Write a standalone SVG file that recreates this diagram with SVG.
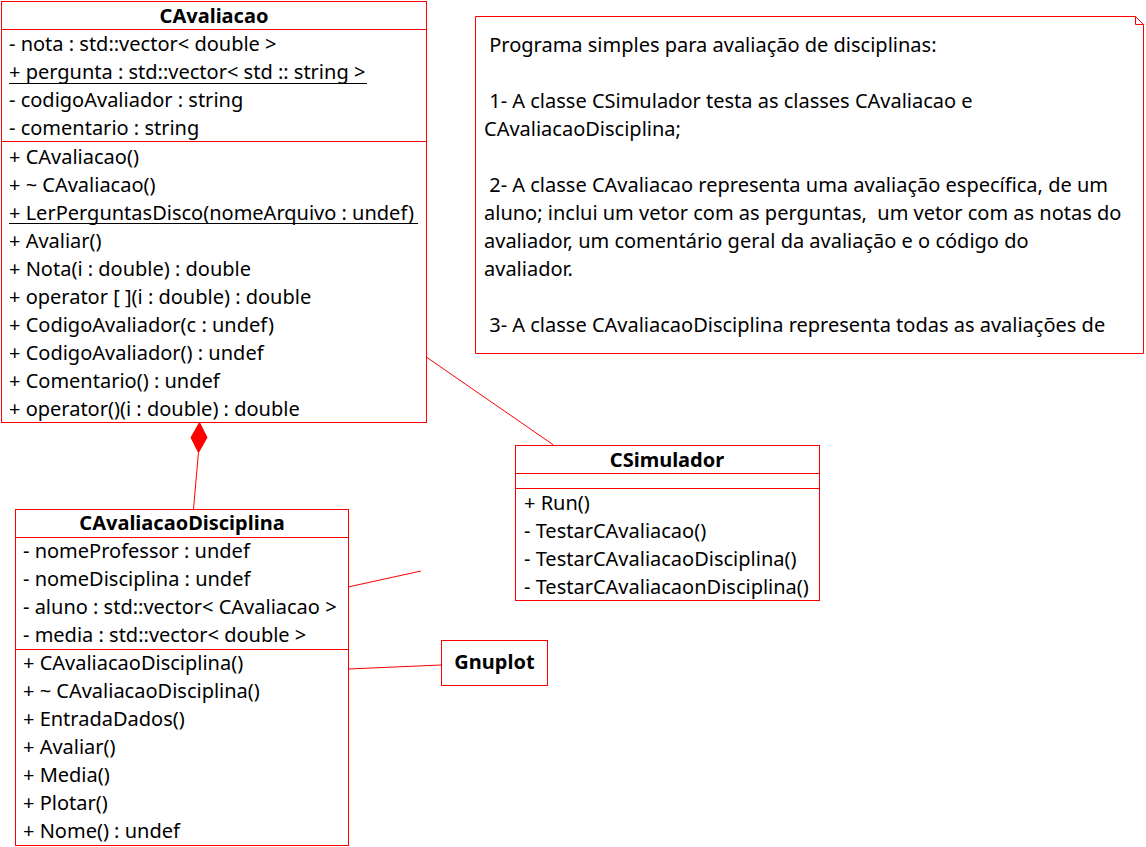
<svg xmlns="http://www.w3.org/2000/svg" width="1146" height="847" viewBox="0 0 1146 847">
<style>
text{font-family:"Noto Sans","Open Sans","DejaVu Sans",sans-serif;font-size:20px;fill:#000;white-space:pre}
.t{font-weight:bold;text-anchor:middle}
.ul{stroke:#000;stroke-width:1.2;fill:none}
.box{fill:#fff;stroke:#ff0000;stroke-width:1}
.ln{stroke:#ff0000;stroke-width:1;fill:none}
</style>
<rect width="1146" height="847" fill="#fff"/>
<g id="connectors">
<path class="ln" d="M198.5,452 L193.5,509"/>
<polygon points="199.5,422.5 207,437.5 198.5,452.5 191,437.5" fill="#ff0000" stroke="#ff0000"/>
<path class="ln" d="M427,357.5 L553.5,445"/>
<path class="ln" d="M348,587 L421,571"/>
<path class="ln" d="M348,669 L441,665"/>
</g>
<g id="CAvaliacao">
<rect class="box" x="1.5" y="1.5" width="425" height="421"/>
<path class="ln" d="M1.5,29.5 H426.5 M1.5,141.5 H426.5"/>
<text class="t" x="214" y="23">CAvaliacao</text>
<text x="9" y="51">- nota : std::vector&lt; double &gt;</text>
<text x="9" y="79">+ pergunta : std::vector&lt; std :: string &gt;</text>
<path class="ul" d="M9,83.5 H367"/>
<text x="9" y="107">- codigoAvaliador : string</text>
<text x="9" y="135">- comentario : string</text>
<text x="9" y="164">+ CAvaliacao()</text>
<text x="9" y="192">+ ~ CAvaliacao()</text>
<text x="9" y="220">+ LerPerguntasDisco(nomeArquivo : undef)</text>
<path class="ul" d="M9,223.5 H418"/>
<text x="9" y="248">+ Avaliar()</text>
<text x="9" y="276">+ Nota(i : double) : double</text>
<text x="9" y="304">+ operator [ ](i : double) : double</text>
<text x="9" y="332">+ CodigoAvaliador(c : undef)</text>
<text x="9" y="360">+ CodigoAvaliador() : undef</text>
<text x="9" y="388">+ Comentario() : undef</text>
<text x="9" y="416">+ operator()(i : double) : double</text>
</g>
<g id="note">
<path class="box" d="M475.5,16.5 H1135.5 L1143.5,24.5 V353.5 H475.5 Z"/>
<path class="ln" d="M1135.5,16.5 V24.5 H1143.5"/>
<text x="484" y="52" xml:space="preserve"> Programa simples para avaliação de disciplinas:</text>
<text x="484" y="108" xml:space="preserve"> 1- A classe CSimulador testa as classes CAvaliacao e</text>
<text x="484" y="136" xml:space="preserve">CAvaliacaoDisciplina;</text>
<text x="484" y="192" xml:space="preserve"> 2- A classe CAvaliacao representa uma avaliação específica, de um</text>
<text x="484" y="220" xml:space="preserve">aluno; inclui um vetor com as perguntas,  um vetor com as notas do</text>
<text x="484" y="248" xml:space="preserve">avaliador, um comentário geral da avaliação e o código do</text>
<text x="484" y="276" xml:space="preserve">avaliador.</text>
<text x="484" y="332" xml:space="preserve"> 3- A classe CAvaliacaoDisciplina representa todas as avaliações de</text>
</g>
<g id="CSimulador">
<rect class="box" x="515.5" y="445.5" width="304" height="155"/>
<path class="ln" d="M515.5,473.5 H819.5 M515.5,488.5 H819.5"/>
<text class="t" x="667" y="467">CSimulador</text>
<text x="524" y="510">+ Run()</text>
<text x="524" y="538">- TestarCAvaliacao()</text>
<text x="524" y="566">- TestarCAvaliacaoDisciplina()</text>
<text x="524" y="594">- TestarCAvaliacaonDisciplina()</text>
</g>
<g id="CAvaliacaoDisciplina">
<rect class="box" x="15.5" y="509.5" width="333" height="336"/>
<path class="ln" d="M15.5,537.5 H348.5 M15.5,649.5 H348.5"/>
<text class="t" x="182" y="530">CAvaliacaoDisciplina</text>
<text x="23" y="558">- nomeProfessor : undef</text>
<text x="23" y="586">- nomeDisciplina : undef</text>
<text x="23" y="614">- aluno : std::vector&lt; CAvaliacao &gt;</text>
<text x="23" y="642">- media : std::vector&lt; double &gt;</text>
<text x="23" y="670">+ CAvaliacaoDisciplina()</text>
<text x="23" y="698">+ ~ CAvaliacaoDisciplina()</text>
<text x="23" y="726">+ EntradaDados()</text>
<text x="23" y="754">+ Avaliar()</text>
<text x="23" y="782">+ Media()</text>
<text x="23" y="810">+ Plotar()</text>
<text x="23" y="838">+ Nome() : undef</text>
</g>
<g id="Gnuplot">
<rect class="box" x="441.5" y="640.5" width="106" height="45"/>
<text class="t" x="494.5" y="669">Gnuplot</text>
</g>
</svg>
